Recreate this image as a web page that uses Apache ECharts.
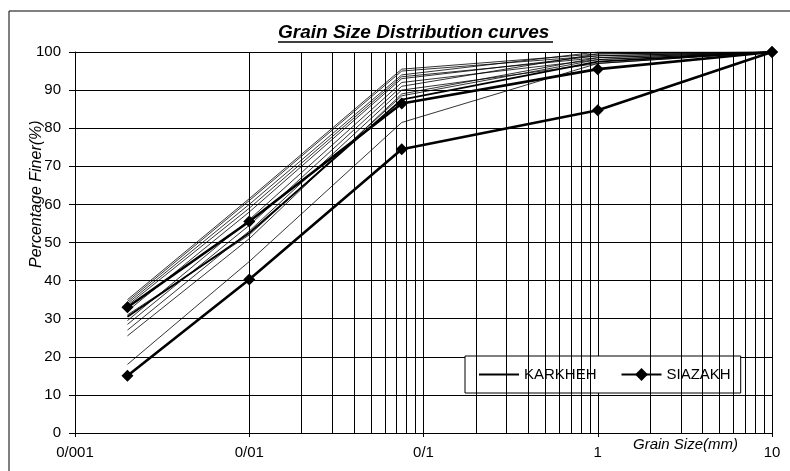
<!DOCTYPE html>
<html>
<head>
<meta charset="utf-8">
<script src="https://cdn.jsdelivr.net/npm/echarts@6/dist/echarts.min.js"></script>
<style>
    html, body {margin: 0; padding: 0; background: #fff;}
    #chart {width: 790px; height: 471px;}
</style>
</head>
<body>
<div id="chart"></div>
<script>
// grain sizes (mm) of the sieve / hydrometer points
const sizes = [0.002, 0.01, 0.075, 1, 10];
const xLabels = ['0/001', '0/01', '0/1', '1', '10'];

// KARKHEH samples, percentage finer at each size
const karkheh = [
    [35, 61.5, 95.5, 99.5, 100],
    [34.5, 61, 95, 99, 100],
    [34, 60, 94, 100, 100],
    [33.5, 59, 93.5, 98.5, 100],
    [32, 58, 93, 99, 100],
    [29.5, 56, 92, 98, 100],
    [28.5, 54.5, 91, 99.5, 100],
    [27, 53, 90, 97, 100],
    [25.5, 51, 89, 98.5, 100],
    [31, 52, 88.5, 98, 100],
    [18, 45, 81.5, 97, 100],
];
// one KARKHEH curve printed a bit heavier
const karkhehBold = [30.5, 52.5, 87.5, 97.5, 100];

// SIAZAKH samples
const siazakh1 = [33, 55.5, 86.5, 95.5, 100];
const siazakh2 = [15, 40.3, 74.5, 84.7, 100];

// log minor grid positions (2..9 per decade)
const minorGrid = [];
for (let e = -3; e < 1; e++) {
    for (let m = 2; m <= 9; m++) minorGrid.push(m * Math.pow(10, e));
}

const toPts = row => sizes.map((s, i) => [s, row[i]]);
const FONT = 'Liberation Sans, Arial, sans-serif';

let series = [];
// grid lines of the log paper
series.push({
    type: 'line',
    data: [],
    silent: true,
    z: 1,
    markLine: {
        silent: true,
        symbol: 'none',
        label: {show: false},
        lineStyle: {color: '#000', width: 1, type: 'solid'},
        data: minorGrid.map(v => ({xAxis: v}))
    }
});
karkheh.forEach(row => {
    series.push({
        name: 'KARKHEH', type: 'line', data: toPts(row), z: 3,
        symbol: 'none', lineStyle: {color: '#000', width: 0.8},
        itemStyle: {color: '#000'}
    });
});
series.push({
    name: 'KARKHEH', type: 'line', data: toPts(karkhehBold), z: 3,
    symbol: 'none', lineStyle: {color: '#000', width: 1.8},
    itemStyle: {color: '#000'}
});
[siazakh1, siazakh2].forEach(row => {
    series.push({
        name: 'SIAZAKH', type: 'line', data: toPts(row), z: 4,
        symbol: 'diamond', symbolSize: 12, showAllSymbol: true,
        lineStyle: {color: '#000', width: 2.6},
        itemStyle: {color: '#000'}
    });
});

let myChart = echarts.init(document.getElementById('chart'));
myChart.setOption({
    animation: false,
    backgroundColor: '#fff',
    grid: {left: 75, right: 18, top: 52, bottom: 38},
    xAxis: {
        type: 'log',
        logBase: 10,
        min: 0.001,
        max: 10,
        axisLine: {show: true, lineStyle: {color: '#000', width: 1}},
        axisTick: {show: true, length: 4, lineStyle: {color: '#000'}},
        axisLabel: {
            color: '#000', fontSize: 15, fontFamily: FONT, margin: 12,
            formatter: v => xLabels[Math.round(Math.log10(v)) + 3]
        },
        splitLine: {show: true, lineStyle: {color: '#000', width: 1}}
    },
    yAxis: {
        type: 'value',
        min: 0,
        max: 100,
        interval: 10,
        axisLine: {show: true, lineStyle: {color: '#000', width: 1}},
        axisTick: {show: true, length: 6, lineStyle: {color: '#000'}},
        axisLabel: {color: '#000', fontSize: 15, fontFamily: FONT, margin: 14},
        splitLine: {show: true, lineStyle: {color: '#000', width: 1}}
    },
    legend: {
        data: [
            {name: 'KARKHEH', itemStyle: {opacity: 0}},
            {name: 'SIAZAKH'}
        ],
        left: 465,
        top: 356,
        orient: 'horizontal',
        backgroundColor: '#fff',
        borderColor: '#000',
        borderWidth: 1,
        borderRadius: 0,
        padding: [11, 10, 11, 13],
        itemWidth: 40,
        itemHeight: 16,
        itemGap: 24,
        selectedMode: false,
        textStyle: {color: '#000', fontSize: 15, fontFamily: FONT}
    },
    graphic: [
        {   // outer frame
            type: 'rect', silent: true, z: 0,
            shape: {x: 9, y: 11, width: 800, height: 500},
            style: {fill: 'none', stroke: '#000', lineWidth: 1}
        },
        {
            type: 'text', left: 278, top: 23, z: 10,
            style: {
                text: 'Grain Size Distribution curves',
                font: 'italic bold 19px ' + FONT,
                fill: '#000'
            }
        },
        {
            type: 'line', z: 10,
            shape: {x1: 278, y1: 42, x2: 553, y2: 42},
            style: {stroke: '#000', lineWidth: 1.5}
        },
        {
            type: 'text', z: 10,
            x: 29, y: 268, rotation: Math.PI / 2,
            style: {
                text: 'Percentage Finer(%)',
                font: 'italic 16px ' + FONT,
                fill: '#000'
            }
        },
        {
            type: 'text', z: 10,
            left: 633, top: 437,
            style: {
                text: 'Grain Size(mm)',
                font: 'italic 15px ' + FONT,
                fill: '#000'
            }
        }
    ],
    series: series
});
</script>
</body>
</html>
